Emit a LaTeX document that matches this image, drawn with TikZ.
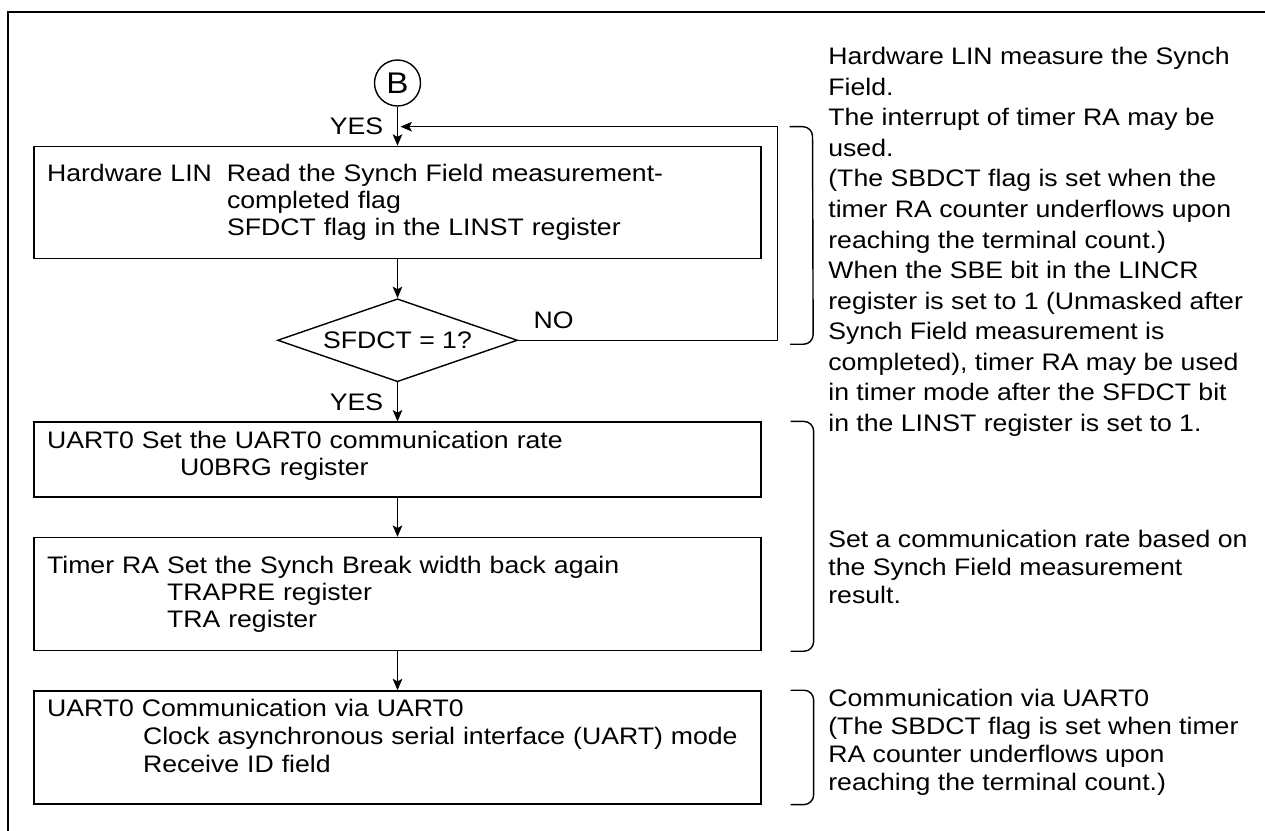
\documentclass[tikz,border=0pt]{standalone}
\usepackage{fontspec}
\setmainfont{Liberation Sans}[FakeStretch=1.115]
\usetikzlibrary{arrows.meta,positioning,shapes.geometric,calc}

\begin{document}
\begin{tikzpicture}[x=0.02cm, y=-0.02cm,
    font=\fontsize{13.6}{15.3}\selectfont,
    procbox/.style={rectangle, draw, line width=0.8pt, minimum width=14.54cm,
          text width=14.02cm, inner xsep=0.26cm, inner ysep=0pt, align=left},
    decbox/.style={diamond, draw, line width=0.8pt, minimum width=4.8cm,
          minimum height=1.66cm, inner sep=0pt, aspect=2.9},
    conn/.style={circle, draw, line width=0.8pt, minimum size=0.92cm, inner sep=0pt,
          font=\fontsize{17}{20}\selectfont},
    flow/.style={-{Stealth[length=6.5pt,width=5.5pt,inset=1.5pt]}, line width=0.7pt},
    brace/.style={line width=0.8pt, rounded corners=5.5pt},
    note/.style={anchor=north west, align=left, inner sep=0pt},
    lbl/.style={inner sep=0pt}]

    \useasboundingbox (0,0) rectangle (1265,831);
    \draw[line width=1.7pt] (8,831) -- (8,12) -- (1265,12);

    % flow chart
    \node[conn] (B) at (397.5,83) {B};
    \node[procbox, below=0.78cm of B, minimum height=2.24cm] (b1)
      {\makebox[3.6cm][l]{Hardware LIN}Read the Synch Field measurement-\\
       \hspace*{3.6cm}completed flag\\
       \hspace*{3.6cm}SFDCT flag in the LINST register};
    \node[decbox, below=0.78cm of b1] (dec) {SFDCT = 1?};
    \node[procbox, below=0.78cm of dec, minimum height=1.5cm] (b2)
      {UART0 Set the UART0 communication rate\\
       \hspace*{2.66cm}U0BRG register\rule[-0.24cm]{0pt}{0pt}};
    \node[procbox, below=0.78cm of b2, minimum height=2.26cm] (b3)
      {Timer RA Set the Synch Break width back again\\
       \hspace*{2.4cm}TRAPRE register\\
       \hspace*{2.4cm}TRA register};
    \node[procbox, below=0.78cm of b3, minimum height=2.26cm,
          font=\fontsize{13.6}{15.9}\selectfont] (b4)
      {UART0 Communication via UART0\\
       \hspace*{1.92cm}Clock asynchronous serial interface (UART) mode\\
       \hspace*{1.92cm}Receive ID field\rule[-0.45cm]{0pt}{0pt}};

    \node[lbl, anchor=east] (yes1) at ($(B.south)!0.5!(b1.north)+(-14,0)$) {YES};
    \node[lbl, anchor=east] (yes2) at ($(dec.south)!0.5!(b2.north)+(-14,0)$) {YES};
    \node[lbl, anchor=south west] (no) at ($(dec.east)+(15,-11)$) {NO};
    \coordinate (back) at ($(b1.north)+(3,-19)$);

    \draw[flow] (B) -- (b1);
    \draw[flow] (b1) -- (dec);
    \draw[flow] (dec) -- (b2);
    \draw[flow] (b2) -- (b3);
    \draw[flow] (b3) -- (b4);
    \draw[flow] (dec.east) -- ++(259,0) |- (back);

    % brackets and notes
    \draw[brace] ($(back)+(389,0)$) -- ++(23,0) -- ($(dec.east)+(295,4)$) -- ++(-23,0);
    \draw[brace] ($(b2.north east)+(29,0)$) -- ++(23,0) -- ($(b3.south east)+(52,0)$) -- ++(-23,0);
    \draw[brace] ($(b4.north east)+(29,0)$) -- ++(23,0) -- ($(b4.south east)+(52,0)$) -- ++(-23,0);

    \node[note, font=\fontsize{13.6}{17.4}\selectfont] (n1) at (828,47)
      {Hardware LIN measure the Synch\\
       Field.\\
       The interrupt of timer RA may be\\
       used.\\
       (The SBDCT flag is set when the\\
       timer RA counter underflows upon\\
       reaching the terminal count.)\\
       When the SBE bit in the LINCR\\
       register is set to 1 (Unmasked after\\
       Synch Field measurement is\\
       completed), timer RA may be used\\
       in timer mode after the SFDCT bit\\
       in the LINST register is set to 1.};
    \node[note, font=\fontsize{13.6}{15.9}\selectfont] (n2) at (828,530)
      {Set a communication rate based on\\
       the Synch Field measurement\\
       result.};
    \node[note, font=\fontsize{13.6}{15.9}\selectfont] (n3) at (828,689)
      {Communication via UART0\\
       (The SBDCT flag is set when timer\\
       RA counter underflows upon\\
       reaching the terminal count.)};
\end{tikzpicture}
\end{document}
